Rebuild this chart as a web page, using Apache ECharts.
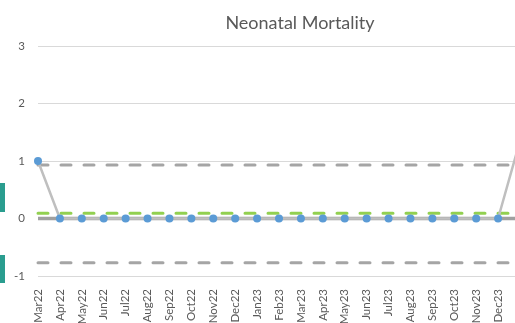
<!DOCTYPE html>
<html>
<head>
<meta charset="utf-8">
<script src="https://cdn.jsdelivr.net/npm/echarts@6/dist/echarts.min.js"></script>
<style>
  html, body { margin: 0; padding: 0; overflow: hidden; background: #fff; }
  #chart { width: 530px; height: 323px; }
</style>
</head>
<body>
<div id="chart"></div>
<script>
// Monthly neonatal mortality (SPC run chart)
const months = ['Mar22','Apr22','May22','Jun22','Jul22','Aug22','Sep22','Oct22','Nov22','Dec22',
  'Jan23','Feb23','Mar23','Apr23','May23','Jun23','Jul23','Aug23','Sep23','Oct23','Nov23','Dec23','Jan24'];
const deaths = [1,0,0,0,0,0,0,0,0,0,0,0,0,0,0,0,0,0,0,0,0,0,1.35];
const meanValue = 0;
const upperLimit = 0.93;
const lowerLimit = -0.77;
const targetValue = 0.09;
const yTicks = { min: -1, max: 3, step: 1 };

const flat = v => months.map(() => v);
const textColor = '#595959';

const chart = echarts.init(document.getElementById('chart'), null, { renderer: 'canvas' });
chart.setOption({
  animation: false,
  title: {
    text: 'Neonatal Mortality',
    left: 295,
    top: 9,
    textAlign: 'center',
    textStyle: { fontFamily: 'Lato', fontSize: 18, fontWeight: 'normal', color: textColor }
  },
  grid: { left: 38, right: 10, top: 46, bottom: 47, containLabel: false, outerBoundsMode: 'none' },
  xAxis: {
    type: 'category',
    data: months,
    boundaryGap: false,
    axisLine: { show: false },
    axisTick: { show: false },
    axisLabel: { rotate: 90, margin: 13, fontSize: 11.5, color: textColor, fontFamily: 'Lato', interval: 0 }
  },
  yAxis: {
    type: 'value',
    min: yTicks.min, max: yTicks.max, interval: yTicks.step,
    axisLine: { show: false },
    axisTick: { show: false },
    axisLabel: { margin: 13, fontSize: 11.5, color: textColor, fontFamily: 'Lato' },
    splitLine: { lineStyle: { color: '#d9d9d9', width: 1 } }
  },
  series: [
    { type: 'line', data: flat(targetValue), symbol: 'none', z: 2,
      lineStyle: { color: '#92d050', width: 3, type: [10, 13], cap: 'round' } },
    { type: 'line', data: flat(upperLimit), symbol: 'none', z: 2,
      lineStyle: { color: '#a5a5a5', width: 3, type: [10, 13], cap: 'round' } },
    { type: 'line', data: flat(lowerLimit), symbol: 'none', z: 2,
      lineStyle: { color: '#a5a5a5', width: 3, type: [10, 13], cap: 'round' } },
    { type: 'line', data: flat(meanValue), symbol: 'none', z: 3,
      lineStyle: { color: '#a0a0a0', width: 3.5 } },
    { type: 'line', data: deaths, z: 4,
      symbol: 'circle', symbolSize: 8,
      itemStyle: { color: '#5b9bd5' },
      lineStyle: { color: '#bfbfbf', width: 2.5 } }
  ],
  graphic: [
    { type: 'rect', shape: { x: 0, y: 183, width: 5, height: 29 }, style: { fill: '#2a9d8f' } },
    { type: 'rect', shape: { x: 0, y: 255, width: 5, height: 28 }, style: { fill: '#2a9d8f' } }
  ]
});
</script>
</body>
</html>
